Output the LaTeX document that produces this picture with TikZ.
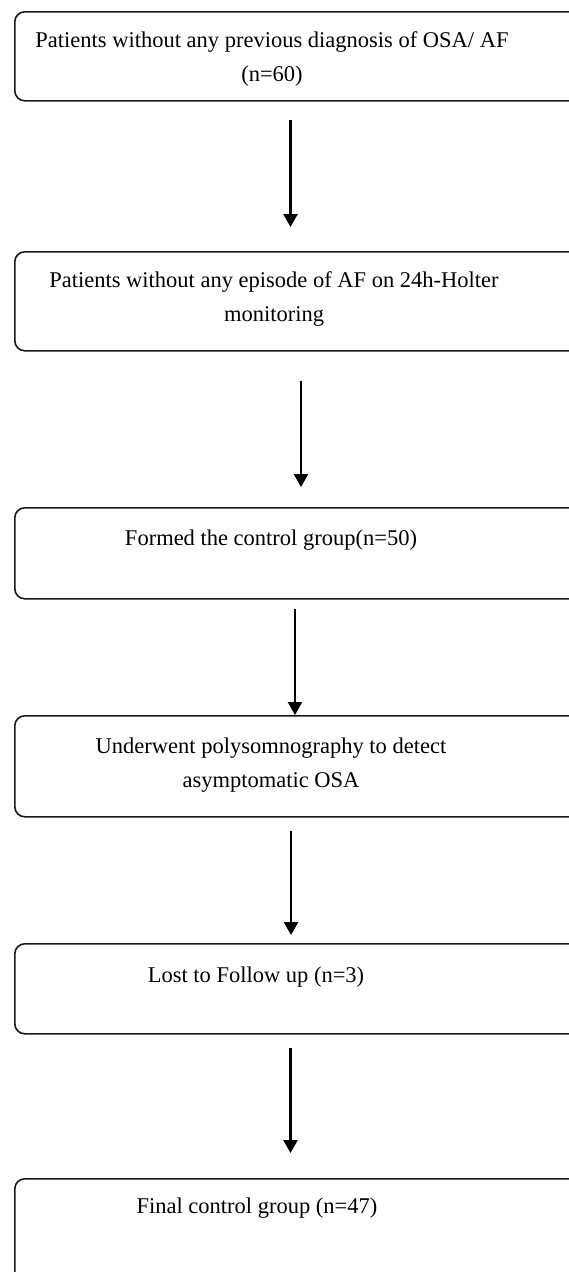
\documentclass[tikz,border=0pt]{standalone}
\usepackage{fontspec}
\setmainfont{Liberation Serif}
\usetikzlibrary{arrows.meta}
\begin{document}
\begin{tikzpicture}[x=1pt,y=-1pt,
  box/.style={draw=black!90, line width=1.6pt, rounded corners=10pt, anchor=north west,
    minimum width=600pt, inner sep=0pt},
  txt/.style={anchor=base, align=center, inner sep=0pt,
    font=\fontsize{22.5}{34}\selectfont},
  arr/.style={line width=2.4pt, -{Triangle[width=14pt,length=13pt]}}]
\useasboundingbox (0,0) rectangle (569,1272);
\clip (0,0) rectangle (569,1272);
% boxes
\node[box, minimum height=89pt]  (b1) at (14,11) {};
\node[box, minimum height=99pt]  (b2) at (14,251) {};
\node[box, minimum height=91pt]  (b3) at (14,507) {};
\node[box, minimum height=101pt] (b4) at (14,715) {};
\node[box, minimum height=90pt]  (b5) at (14,943) {};
\node[box, minimum height=130pt] (b6) at (14,1178) {};
% texts (base anchor = baseline of the last line)
\node[txt] (t1) at (272,81) {Patients without any previous diagnosis of OSA/ AF\\(n=60)};
\node[txt] (t2) at (274,321) {Patients without any episode of AF on 24h-Holter\\monitoring};
\node[txt] (t3) at (271,545) {Formed the control group(n=50)};
\node[txt] (t4) at (271,787) {Underwent polysomnography to detect\\asymptomatic OSA};
\node[txt] (t5) at (256,982) {Lost to Follow up (n=3)};
\node[txt] (t6) at (257,1213) {Final control group (n=47)};
% arrows
\coordinate (a1s) at (290.5,120);  \coordinate (a1e) at (290.5,227);
\coordinate (a2s) at (301,381);    \coordinate (a2e) at (301,487);
\coordinate (a3s) at (295,609);    \coordinate (a3e) at (295,715);
\coordinate (a4s) at (291,831);    \coordinate (a4e) at (291,935);
\coordinate (a5s) at (290.5,1048); \coordinate (a5e) at (290.5,1153);
\draw[arr] (a1s) -- (a1e);
\draw[arr] (a2s) -- (a2e);
\draw[arr] (a3s) -- (a3e);
\draw[arr] (a4s) -- (a4e);
\draw[arr] (a5s) -- (a5e);
\end{tikzpicture}
\end{document}
